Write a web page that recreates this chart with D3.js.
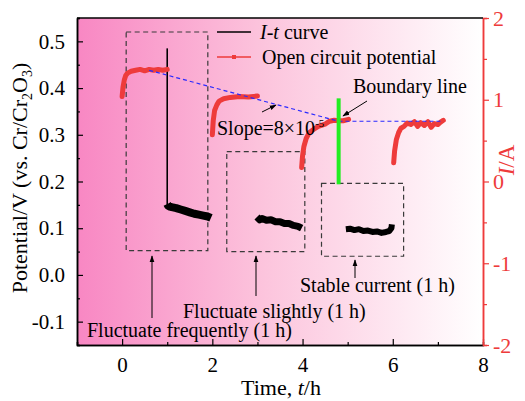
<!DOCTYPE html>
<html>
<head>
<meta charset="utf-8">
<script src="https://cdn.jsdelivr.net/npm/d3@7"></script>
<style>
  body { margin: 0; background: #fff; }
  svg text { font-family: "Liberation Serif", "Times New Roman", serif; }
</style>
</head>
<body>
<svg id="chart" width="525" height="401"></svg>
<script>
// open circuit potential segments (t in h, potential in V)
const ocpT1 = [0, 0.02, 0.05, 0.08, 0.12, 0.2, 0.3, 0.4, 0.5, 0.6, 0.7, 0.8, 0.9, 1.0];
const ocpV1 = [0.382, 0.402, 0.418, 0.427, 0.432, 0.436, 0.438, 0.440, 0.437, 0.440, 0.438, 0.440, 0.438, 0.440];
const ocpT2 = [2.0, 2.02, 2.05, 2.1, 2.15, 2.25, 2.4, 2.6, 2.8, 3.0];
const ocpV2 = [0.300, 0.330, 0.352, 0.364, 0.372, 0.377, 0.380, 0.382, 0.381, 0.383];
const ocpT3 = [3.98, 4.0, 4.03, 4.08, 4.15, 4.25, 4.35, 4.5, 4.6, 4.7, 4.8, 4.9, 5.02];
const ocpV3 = [0.230, 0.255, 0.275, 0.292, 0.305, 0.312, 0.318, 0.323, 0.329, 0.331, 0.330, 0.330, 0.333];
const ocpT4 = [6.02, 6.04, 6.08, 6.13, 6.18, 6.25, 6.32, 6.4, 6.48, 6.55, 6.62, 6.7, 6.78, 6.85, 6.92, 7.0, 7.06, 7.12];
const ocpV4 = [0.240, 0.265, 0.290, 0.305, 0.314, 0.318, 0.325, 0.322, 0.328, 0.318, 0.326, 0.320, 0.328, 0.316, 0.324, 0.322, 0.327, 0.331];

// I-t curve (plotted on the left scale)
const spikeT = [1.0, 1.0];
const spikeV = [0.485, 0.150];
const itT1 = [1.0, 1.02, 1.06, 1.1, 1.2, 1.3, 1.4, 1.5, 1.6, 1.7, 1.8, 1.9, 1.97];
const itV1 = [0.152, 0.148, 0.146, 0.145, 0.143, 0.140, 0.137, 0.134, 0.131, 0.129, 0.127, 0.125, 0.122];
const itT2 = [2.99, 3.05, 3.1, 3.2, 3.3, 3.4, 3.5, 3.6, 3.7, 3.8, 3.9, 3.98];
const itV2 = [0.124, 0.118, 0.121, 0.117, 0.118, 0.114, 0.114, 0.110, 0.110, 0.106, 0.104, 0.100];
const itT3 = [4.96, 5.05, 5.15, 5.25, 5.35, 5.45, 5.55, 5.65, 5.75, 5.85, 5.92, 5.97, 5.98];
const itV3 = [0.098, 0.099, 0.096, 0.098, 0.094, 0.095, 0.092, 0.093, 0.090, 0.092, 0.094, 0.100, 0.108];

// blue dashed guide and boundary
const guideT = [0.6, 4.8, 7.1];
const guideV = [0.438, 0.329, 0.329];
const boundaryT = 4.8;
const boundaryV = [0.378, 0.194];

// dashed boxes: [t0, t1, vTop, vBottom]
const boxes = [[0.09, 1.9, 0.52, 0.052], [2.32, 4.05, 0.264, 0.05], [4.42, 6.24, 0.196, 0.04]];

const xTicks = [0, 2, 4, 6, 8];
const yTicks = [-0.1, 0.0, 0.1, 0.2, 0.3, 0.4, 0.5];
const rTicks = [-2, -1, 0, 1, 2];

const svg = d3.select("#chart");
const margin = {top: 18, right: 42, bottom: 56, left: 77};
const width = 525 - margin.left - margin.right;
const height = 401 - margin.top - margin.bottom;

const x = d3.scaleLinear().domain([-1, 8]).range([0, width]);
const y = d3.scaleLinear().domain([-0.15, 0.55]).range([height, 0]);
const yr = d3.scaleLinear().domain([-2, 2]).range([height, 0]);

const defs = svg.append("defs");
const grad = defs.append("linearGradient").attr("id", "bg").attr("x1", 0).attr("x2", 1).attr("y1", 0).attr("y2", 0);
grad.append("stop").attr("offset", "0%").attr("stop-color", "#f887c3");
grad.append("stop").attr("offset", "45%").attr("stop-color", "#fcc3dc");
grad.append("stop").attr("offset", "100%").attr("stop-color", "#ffffff");

defs.append("marker").attr("id", "arr").attr("viewBox", "0 0 10 10")
  .attr("refX", 9).attr("refY", 5).attr("markerWidth", 7).attr("markerHeight", 7)
  .attr("orient", "auto-start-reverse").attr("markerUnits", "userSpaceOnUse")
  .append("path").attr("d", "M0,1.5 L10,5 L0,8.5 Z").attr("fill", "#000");

const g = svg.append("g").attr("transform", `translate(${margin.left},${margin.top})`);

g.append("rect").attr("width", width).attr("height", height).attr("fill", "url(#bg)");

const line = d3.line().x(d => x(d[0])).y(d => y(d[1]));
const zip = (ts, vs) => ts.map((t, i) => [t, vs[i]]);
const hyph = f => d => f(d).replace("−", "-");

// boxes
g.selectAll(".box").data(boxes).enter().append("rect")
  .attr("x", d => x(d[0])).attr("y", d => y(d[2]))
  .attr("width", d => x(d[1]) - x(d[0])).attr("height", d => y(d[3]) - y(d[2]))
  .attr("fill", "none").attr("stroke", "#3a3a3a").attr("stroke-width", 1.2)
  .attr("stroke-dasharray", "5,3.5");

// I-t curve
g.append("path").attr("d", line(zip(spikeT, spikeV))).attr("fill", "none")
  .attr("stroke", "#000").attr("stroke-width", 1.6);
[[itT1, itV1, 8], [itT2, itV2, 7], [itT3, itV3, 6]].forEach(([ts, vs, w]) => {
  g.append("path").attr("d", line(zip(ts, vs))).attr("fill", "none")
    .attr("stroke", "#000").attr("stroke-width", w).attr("stroke-linejoin", "round");
});

// open circuit potential
[[ocpT1, ocpV1], [ocpT2, ocpV2], [ocpT3, ocpV3], [ocpT4, ocpV4]].forEach(([ts, vs]) => {
  g.append("path").attr("d", line(zip(ts, vs))).attr("fill", "none")
    .attr("stroke", "#ee3b3b").attr("stroke-width", 5).attr("stroke-linejoin", "round")
    .attr("stroke-linecap", "round");
});

// guide line and boundary
g.append("path").attr("d", line(zip(guideT, guideV))).attr("fill", "none")
  .attr("stroke", "#2a2aff").attr("stroke-width", 1.2).attr("stroke-dasharray", "4,3");
g.append("line").attr("x1", x(boundaryT)).attr("x2", x(boundaryT))
  .attr("y1", y(boundaryV[0])).attr("y2", y(boundaryV[1]))
  .attr("stroke", "#22ee22").attr("stroke-width", 4);

// axes
const ax = g.append("g").attr("transform", `translate(0,${height})`)
  .call(d3.axisBottom(x).tickValues(xTicks).tickSizeInner(-6).tickSizeOuter(0).tickPadding(12));
const axm = g.append("g").attr("transform", `translate(0,${height})`)
  .call(d3.axisBottom(x).tickValues([-1, 1, 3, 5, 7]).tickSize(-3).tickFormat(""));
const ay = g.append("g")
  .call(d3.axisLeft(y).tickValues(yTicks).tickSizeInner(-6).tickSizeOuter(0).tickPadding(12).tickFormat(hyph(d3.format(".1f"))));
const aym = g.append("g")
  .call(d3.axisLeft(y).tickValues(d3.range(-0.15, 0.56, 0.1).map(v => +v.toFixed(2))).tickSize(-3).tickFormat(""));
const ar = g.append("g").attr("transform", `translate(${width},0)`)
  .call(d3.axisRight(yr).tickValues(rTicks).tickSizeInner(6).tickSizeOuter(0).tickPadding(4).tickFormat(hyph(d3.format("d"))));
const arm = g.append("g").attr("transform", `translate(${width},0)`)
  .call(d3.axisRight(yr).tickValues([-1.5, -0.5, 0.5, 1.5]).tickSize(4).tickFormat(""));

[ax, axm, ay, aym, ar, arm].forEach(a => a.attr("font-family", null));
[ax, axm, ay, aym].forEach(a => {
  a.select(".domain").attr("stroke", "#000").attr("stroke-width", 1.5);
  a.selectAll(".tick line").attr("stroke", "#000").attr("stroke-width", 1.2);
});
[ar, arm].forEach(a => {
  a.select(".domain").attr("stroke", "#ee3b3b").attr("stroke-width", 1.5);
  a.selectAll(".tick line").attr("stroke", "#ee3b3b").attr("stroke-width", 1.2);
});
g.selectAll(".tick text").attr("font-size", 21).style("font-family", "'Liberation Serif', serif");
ax.selectAll(".tick text").attr("fill", "#000");
ay.selectAll(".tick text").attr("fill", "#000");
ar.selectAll(".tick text").attr("fill", "#ee3b3b").attr("font-size", 22);

// top border
g.append("line").attr("x1", 0).attr("x2", width).attr("y1", 0).attr("y2", 0)
  .attr("stroke", "#000").attr("stroke-width", 1.5);

// axis titles
svg.append("text").attr("x", 281).attr("y", 395).attr("text-anchor", "middle").attr("font-size", 22)
  .html('Time, <tspan font-style="italic">t</tspan>/h');
svg.append("text").attr("transform", "translate(27,178) rotate(-90)").attr("text-anchor", "middle").attr("font-size", 22)
  .html('Potential/V (vs. Cr/Cr<tspan font-size="14" dy="5">2</tspan><tspan dy="-5">O</tspan><tspan font-size="14" dy="5">3</tspan><tspan dy="-5">)</tspan>');
svg.append("text").attr("transform", "translate(514,160) rotate(-90)").attr("text-anchor", "middle").attr("font-size", 23)
  .attr("fill", "#ee3b3b").html('<tspan font-style="italic">I</tspan>/A');

// legend
const lg = svg.append("g");
lg.append("line").attr("x1", 217).attr("x2", 251).attr("y1", 32).attr("y2", 32).attr("stroke", "#000").attr("stroke-width", 1.5);
lg.append("text").attr("x", 260).attr("y", 39).attr("font-size", 20)
  .html('<tspan font-style="italic">I</tspan>-<tspan font-style="italic">t</tspan> curve');
lg.append("line").attr("x1", 217).attr("x2", 251).attr("y1", 57).attr("y2", 57).attr("stroke", "#ee3b3b").attr("stroke-width", 1.5);
lg.append("rect").attr("x", 232).attr("y", 55).attr("width", 4).attr("height", 4).attr("fill", "#ee3b3b");
lg.append("text").attr("x", 262).attr("y", 64).attr("font-size", 20).text("Open circuit potential");

// annotations
function arrow(x1, y1, x2, y2) {
  svg.append("line").attr("x1", x1).attr("y1", y1).attr("x2", x2).attr("y2", y2)
    .attr("stroke", "#000").attr("stroke-width", 1).attr("marker-end", "url(#arr)");
}
arrow(152, 318, 152, 256);
arrow(256, 296, 256, 256);
arrow(355, 278, 355, 260);
arrow(367, 101, 343, 116);
arrow(262, 112, 276, 105);

const ann = [
  [87, 337, "Fluctuate frequently (1 h)"],
  [183, 318, "Fluctuate slightly (1 h)"],
  [300, 292, "Stable current (1 h)"],
  [353, 93, "Boundary line"]
];
ann.forEach(([ax0, ay0, t]) => svg.append("text").attr("x", ax0).attr("y", ay0).attr("font-size", 20).text(t));
svg.append("text").attr("x", 217).attr("y", 135).attr("font-size", 20)
  .html('Slope=8×10<tspan font-size="11" dy="-8">-5</tspan>');
</script>
</body>
</html>
